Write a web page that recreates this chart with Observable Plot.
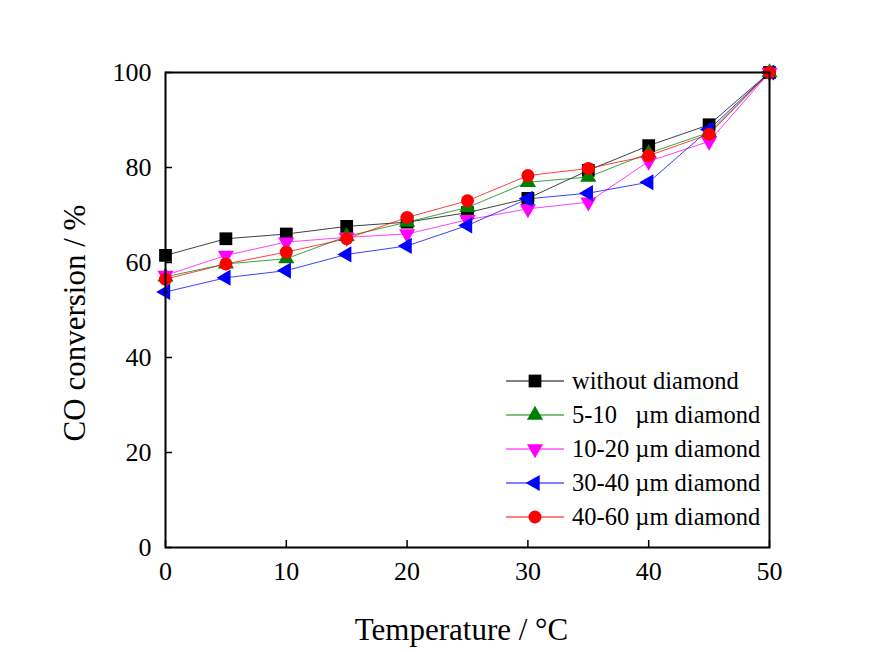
<!DOCTYPE html>
<html>
<head>
<meta charset="utf-8">
<script src="https://cdn.jsdelivr.net/npm/d3@7"></script>
<script src="https://cdn.jsdelivr.net/npm/@observablehq/plot@0.6"></script>
<style>
  html, body { margin: 0; padding: 0; background: #fff; }
  #wrap { position: relative; width: 877px; height: 652px; font-family: "Liberation Serif", "DejaVu Serif", serif; }
  #legend { position: absolute; left: 503px; top: 364px; font-size: 24.5px; color: #000; }
  #legend .row { height: 34px; display: flex; align-items: center; white-space: pre; }
  #legend svg { margin-right: 5px; }
</style>
</head>
<body>
<div id="wrap"></div>
<script>
const temps = [0, 5, 10, 15, 20, 25, 30, 35, 40, 45, 50];
const seriesNames = ["without diamond", "5-10   \u00b5m diamond", "10-20 \u00b5m diamond", "30-40 \u00b5m diamond", "40-60 \u00b5m diamond"];
const withoutDiamond = [61.5, 65.0, 66.0, 67.6, 68.5, 70.5, 73.5, 79.4, 84.6, 89.0, 100];
const d5_10  = [57.0, 59.7, 60.8, 65.5, 68.5, 71.6, 76.9, 78.0, 83.0, 87.4, 100];
const d10_20 = [57.3, 61.5, 64.3, 65.3, 66.0, 69.0, 71.3, 72.7, 81.3, 85.5, 100];
const d30_40 = [53.8, 56.8, 58.3, 61.7, 63.5, 67.8, 73.4, 74.6, 76.9, 88.0, 100];
const d40_60 = [56.5, 59.7, 62.2, 65.0, 69.5, 73.0, 78.3, 79.8, 82.5, 87.0, 100];
const seriesValues = [withoutDiamond, d5_10, d10_20, d30_40, d40_60];
const colors = ["#000000", "#008000", "#ff00ff", "#0000ff", "#ff0000"];
const symbols = ["square", "triangle", "triangle", "triangle", "circle"];
const rotations = [0, 0, 180, -90, 0];
const radii = [7.2, 6, 6, 6, 6.5];
const xTicks = [0, 10, 20, 30, 40, 50];
const yTicks = [0, 20, 40, 60, 80, 100];

const rows = [];
seriesValues.forEach((vals, si) => vals.forEach((v, i) => rows.push({s: si, t: temps[i], v})));

const marks = [];
seriesValues.forEach((vals, si) => {
  const d = rows.filter(r => r.s === si);
  marks.push(Plot.line(d, {x: "t", y: "v", stroke: colors[si], strokeWidth: 1, strokeOpacity: 0.75}));
});
seriesValues.forEach((vals, si) => {
  const d = rows.filter(r => r.s === si);
  marks.push(Plot.dot(d, {x: "t", y: "v", symbol: symbols[si], fill: colors[si], stroke: "none",
    r: radii[si], rotate: rotations[si]}));
});

const frameH = 652 - 72 - 105;
const frameW = 877 - 165 - 108;
const tickLen = 7;

const chart = Plot.plot({
  width: 877,
  height: 652,
  marginLeft: 165,
  marginRight: 108,
  marginTop: 72,
  marginBottom: 105,
  style: {fontFamily: "Liberation Serif, serif", background: "#fff", color: "#000"},
  x: {domain: [0, 50]},
  y: {domain: [0, 100]},
  marks: [
    Plot.axisX({ticks: xTicks, tickSize: 0, tickPadding: 14, fontSize: 26, label: null}),
    Plot.axisY({ticks: yTicks, tickSize: 0, tickPadding: 14, fontSize: 26, label: null}),
    Plot.tickX(xTicks, {x: d => d, insetTop: frameH - tickLen, stroke: "#000", strokeWidth: 1.5}),
    Plot.tickY(yTicks, {y: d => d, insetRight: frameW - tickLen, stroke: "#000", strokeWidth: 1.5}),
    ...marks,
    Plot.frame({stroke: "#000", strokeWidth: 2}),
    Plot.text(["Temperature / \u00b0C"], {frameAnchor: "bottom", dy: 92, dx: -6, fontSize: 31, fill: "#000"}),
    Plot.text(["CO conversion / %"], {frameAnchor: "left", textAnchor: "middle", dx: -90, dy: 13, rotate: -90, fontSize: 31, fill: "#000"})
  ]
});
const wrap = document.getElementById("wrap");
wrap.appendChild(chart);

// Legend
const legend = document.createElement("div");
legend.id = "legend";
const symMap = {square: d3.symbolSquare, triangle: d3.symbolTriangle, circle: d3.symbolCircle};
seriesNames.forEach((name, si) => {
  const row = document.createElement("div");
  row.className = "row";
  const svg = d3.create("svg").attr("width", 64).attr("height", 20);
  svg.append("line").attr("x1", 3).attr("x2", 61).attr("y1", 10).attr("y2", 10)
    .attr("stroke", colors[si]).attr("stroke-width", 1);
  const r = radii[si];
  svg.append("path").attr("d", d3.symbol(symMap[symbols[si]], Math.PI * r * r)())
    .attr("transform", `translate(32,10) rotate(${rotations[si]})`)
    .attr("fill", colors[si]);
  row.appendChild(svg.node());
  const span = document.createElement("span");
  span.textContent = name;
  row.appendChild(span);
  legend.appendChild(row);
});
wrap.appendChild(legend);
</script>
</body>
</html>
